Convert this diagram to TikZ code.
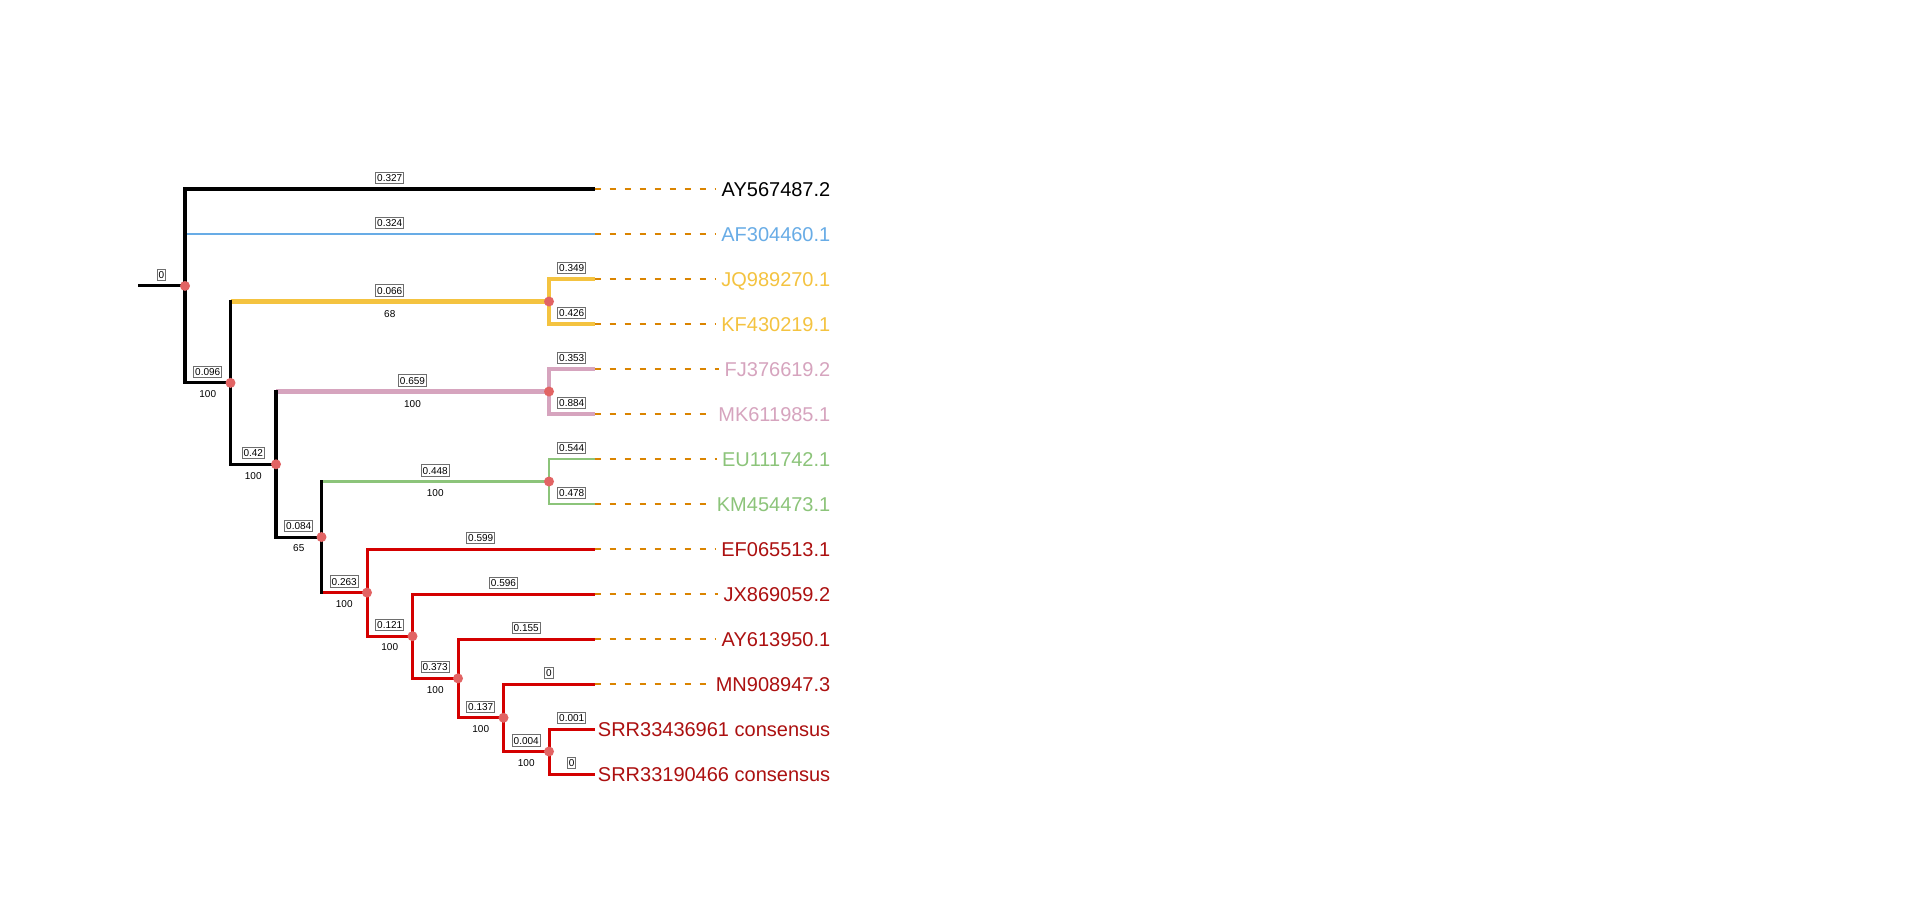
\documentclass[tikz,border=0pt]{standalone}
\usepackage{fontspec}
\setmainfont{Liberation Sans}
\definecolor{cblk}{RGB}{0,0,0}
\definecolor{cblue}{RGB}{104,172,230}
\definecolor{cyel}{RGB}{244,195,64}
\definecolor{cpink}{RGB}{214,164,190}
\definecolor{cgreen}{RGB}{140,196,122}
\definecolor{cred}{RGB}{212,0,0}
\definecolor{credt}{RGB}{172,16,16}
\definecolor{cdash}{RGB}{218,132,0}
\definecolor{cdot}{RGB}{226,100,100}
\definecolor{cbox}{RGB}{110,110,110}
\begin{document}
\begin{tikzpicture}[x=1pt,y=-1pt,
  br/.style={line width=3.1pt},
  blk/.style={br,draw=cblk},
  blu/.style={line width=2.9pt,draw=cblue},
  yel/.style={line width=4.6pt,draw=cyel},
  pnk/.style={line width=4.6pt,draw=cpink},
  grn/.style={line width=2.9pt,draw=cgreen},
  rd/.style={line width=3pt,draw=cred},
  vert/.style={line cap=rect},
  lenbox/.style={midway,above=5pt,draw=cbox,fill=white,line width=0.9pt,
    font=\fontsize{10}{12}\selectfont,inner xsep=1.3pt,inner ysep=2pt,
    text height=7.2pt,text depth=0pt,text=black},
  boot/.style={midway,below=6pt,inner sep=0pt,font=\fontsize{10}{12}\selectfont,
    text height=7.2pt,text depth=0pt,text=black},
  leaf/.style={anchor=east,inner sep=0pt,font=\fontsize{20}{24}\selectfont,
    text height=14.4pt,text depth=0pt},
  dsh/.style={draw=cdash,line width=1.7pt,dash pattern=on 6pt off 9pt},
  dotn/.style={fill=cdot}
]
\useasboundingbox (0,0) rectangle (1920,911);
\fill[white] (0,0) rectangle (1920,911);

% internal nodes
\coordinate (stub) at (138,285.94);
\coordinate (root) at (185,285.94);
\coordinate (n2) at (230.5,382.89);
\coordinate (n3) at (276,464.27);
\coordinate (n4) at (321.5,537.05);
\coordinate (n5) at (367,592.59);
\coordinate (n6) at (412.5,636.19);
\coordinate (n7) at (458,678.38);
\coordinate (n8) at (503.5,717.75);
\coordinate (n9) at (549,751.5);
\coordinate (ny) at (549,301.5);
\coordinate (np) at (549,391.5);
\coordinate (ng) at (549,481.5);
% leaf tips
\coordinate (tAY) at (594.5,189);
\coordinate (tAF) at (594.5,234);
\coordinate (tJQ) at (594.5,279);
\coordinate (tKF) at (594.5,324);
\coordinate (tFJ) at (594.5,369);
\coordinate (tMK) at (594.5,414);
\coordinate (tEU) at (594.5,459);
\coordinate (tKM) at (594.5,504);
\coordinate (tEF) at (594.5,549);
\coordinate (tJX) at (594.5,594);
\coordinate (tAYs) at (594.5,639);
\coordinate (tMN) at (594.5,684);
\coordinate (tS1) at (594.5,729);
\coordinate (tS2) at (594.5,774);
\coordinate (lx) at (830.5,0);

% horizontal branches
\draw[blk] (stub) -- (root) node[lenbox]{0};
\draw[blk] (root |- tAY) -- (tAY) node[lenbox]{0.327};
\draw[blu] (root |- tAF) -- (tAF) node[lenbox]{0.324};
\draw[blk] (root |- n2) -- (n2) node[lenbox]{0.096} node[boot]{100};
\draw[yel] (n2 |- ny) -- (ny) node[lenbox]{0.066} node[boot]{68};
\draw[yel] (ny |- tJQ) -- (tJQ) node[lenbox]{0.349};
\draw[yel] (ny |- tKF) -- (tKF) node[lenbox]{0.426};
\draw[blk] (n2 |- n3) -- (n3) node[lenbox]{0.42} node[boot]{100};
\draw[pnk] (n3 |- np) -- (np) node[lenbox]{0.659} node[boot]{100};
\draw[pnk] (np |- tFJ) -- (tFJ) node[lenbox]{0.353};
\draw[pnk] (np |- tMK) -- (tMK) node[lenbox]{0.884};
\draw[blk] (n3 |- n4) -- (n4) node[lenbox]{0.084} node[boot]{65};
\draw[grn] (n4 |- ng) -- (ng) node[lenbox]{0.448} node[boot]{100};
\draw[grn] (ng |- tEU) -- (tEU) node[lenbox]{0.544};
\draw[grn] (ng |- tKM) -- (tKM) node[lenbox]{0.478};
\draw[rd] (n4 |- n5) -- (n5) node[lenbox]{0.263} node[boot]{100};
\draw[rd] (n5 |- tEF) -- (tEF) node[lenbox]{0.599};
\draw[rd] (n5 |- n6) -- (n6) node[lenbox]{0.121} node[boot]{100};
\draw[rd] (n6 |- tJX) -- (tJX) node[lenbox]{0.596};
\draw[rd] (n6 |- n7) -- (n7) node[lenbox]{0.373} node[boot]{100};
\draw[rd] (n7 |- tAYs) -- (tAYs) node[lenbox]{0.155};
\draw[rd] (n7 |- n8) -- (n8) node[lenbox]{0.137} node[boot]{100};
\draw[rd] (n8 |- tMN) -- (tMN) node[lenbox]{0};
\draw[rd] (n8 |- n9) -- (n9) node[lenbox]{0.004} node[boot]{100};
\draw[rd] (n9 |- tS1) -- (tS1) node[lenbox]{0.001};
\draw[rd] (n9 |- tS2) -- (tS2) node[lenbox]{0};

% vertical segments
\draw[blk,vert] (root |- tAY) -- (root |- n2);
\draw[blk,vert] (n2 |- ny) -- (n2 |- n3);
\draw[yel,vert] (ny |- tJQ) -- (ny |- tKF);
\draw[blk,vert] (n3 |- np) -- (n3 |- n4);
\draw[pnk,vert] (np |- tFJ) -- (np |- tMK);
\draw[blk,vert] (n4 |- ng) -- (n4 |- n5);
\draw[grn,vert] (ng |- tEU) -- (ng |- tKM);
\draw[rd,vert] (n5 |- tEF) -- (n5 |- n6);
\draw[rd,vert] (n6 |- tJX) -- (n6 |- n7);
\draw[rd,vert] (n7 |- tAYs) -- (n7 |- n8);
\draw[rd,vert] (n8 |- tMN) -- (n8 |- n9);
\draw[rd,vert] (n9 |- tS1) -- (n9 |- tS2);

% node dots
\foreach \n in {root,n2,n3,n4,n5,n6,n7,n8,n9,ny,np,ng}
  \fill[dotn] (\n) circle[radius=5pt];

% leaf labels
\node[leaf,text=cblk]   (lAY)  at (tAY -| lx)  {AY567487.2};
\node[leaf,text=cblue]  (lAF)  at (tAF -| lx)  {AF304460.1};
\node[leaf,text=cyel]   (lJQ)  at (tJQ -| lx)  {JQ989270.1};
\node[leaf,text=cyel]   (lKF)  at (tKF -| lx)  {KF430219.1};
\node[leaf,text=cpink]  (lFJ)  at (tFJ -| lx)  {FJ376619.2};
\node[leaf,text=cpink]  (lMK)  at (tMK -| lx)  {MK611985.1};
\node[leaf,text=cgreen] (lEU)  at (tEU -| lx)  {EU111742.1};
\node[leaf,text=cgreen] (lKM)  at (tKM -| lx)  {KM454473.1};
\node[leaf,text=credt]  (lEF)  at (tEF -| lx)  {EF065513.1};
\node[leaf,text=credt]  (lJX)  at (tJX -| lx)  {JX869059.2};
\node[leaf,text=credt]  (lAYs) at (tAYs -| lx) {AY613950.1};
\node[leaf,text=credt]  (lMN)  at (tMN -| lx)  {MN908947.3};
\node[leaf,text=credt]  (lS1)  at (tS1 -| lx)  {SRR33436961 consensus};
\node[leaf,text=credt]  (lS2)  at (tS2 -| lx)  {SRR33190466 consensus};

% dashed leaders
\foreach \a/\b in {tAY/lAY,tAF/lAF,tJQ/lJQ,tKF/lKF,tFJ/lFJ,tMK/lMK,tEU/lEU,tKM/lKM,tEF/lEF,tJX/lJX,tAYs/lAYs,tMN/lMN}
  \draw[dsh] (\a) -- ([xshift=-5pt]\b.west);
\end{tikzpicture}
\end{document}
